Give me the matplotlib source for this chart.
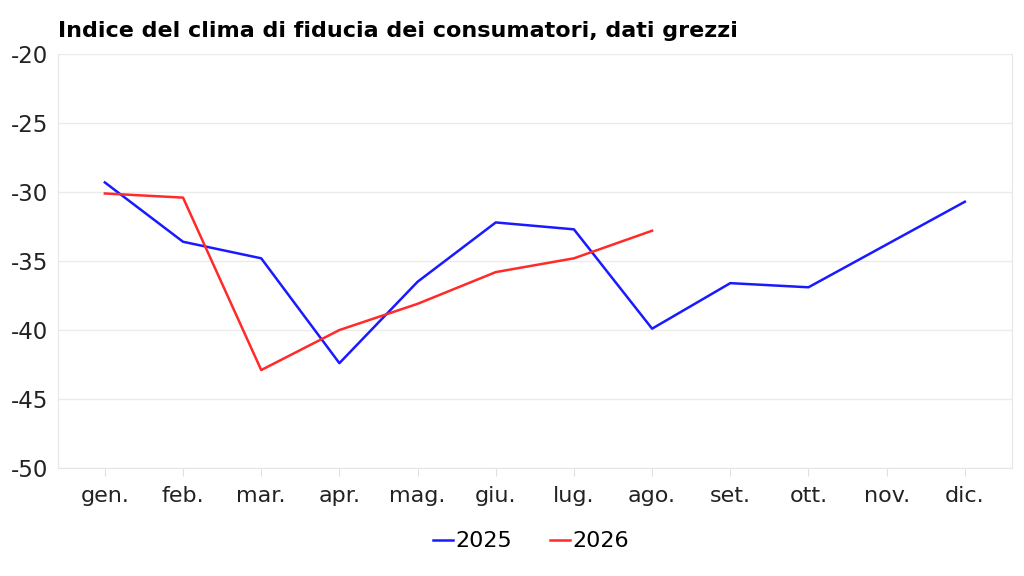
import matplotlib
matplotlib.use("Agg")
import matplotlib.pyplot as plt

months = ["gen.", "feb.", "mar.", "apr.", "mag.", "giu.", "lug.", "ago.",
          "set.", "ott.", "nov.", "dic."]
vals_2025 = [-29.3, -33.6, -34.8, -42.4, -36.5, -32.2, -32.7, -39.9,
             -36.6, -36.9, -33.8, -30.7]
vals_2026 = [-30.1, -30.4, -42.9, -40.0, -38.1, -35.8, -34.8, -32.8]

plt.rcParams["axes.unicode_minus"] = False

fig = plt.figure(figsize=(10.24, 5.76), dpi=100)
ax = fig.add_axes([0.0566, 0.1875, 0.9314, 0.7185])

x25 = range(len(vals_2025))
x26 = range(len(vals_2026))
ax.plot(x25, vals_2025, color="#1a1aff", lw=1.8, label="2025")
ax.plot(x26, vals_2026, color="#ff2a2a", lw=1.8, label="2026")

ax.set_xlim(-0.6, 11.6)
ax.set_ylim(-50, -20)
ax.set_yticks(range(-50, -19, 5))
ax.set_xticks(range(12))
ax.set_xticklabels(months)
ax.grid(axis="y", color="#ebebeb", lw=1)
ax.set_axisbelow(True)

for side in ["left", "bottom", "right"]:
    ax.spines[side].set_color("#e6e6e6")
ax.spines["top"].set_visible(False)
ax.tick_params(axis="x", colors="#e0e0e0", length=6, pad=7, labelcolor="#222222", labelsize=16)
ax.tick_params(axis="y", length=0, pad=7, labelcolor="#222222", labelsize=16.5)

fig.text(0.0566, 0.946, "Indice del clima di fiducia dei consumatori, dati grezzi",
         fontsize=16, fontweight="bold", va="center", ha="left")

ax.legend(loc="upper center", bbox_to_anchor=(0.496, -0.105), ncol=2, frameon=False,
          fontsize=16, handlelength=0.9, handletextpad=0.1, columnspacing=1.7)

fig.savefig("out.png", dpi=100)
